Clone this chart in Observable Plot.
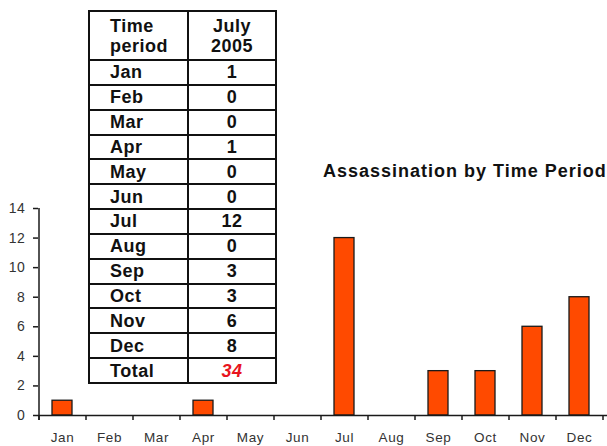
<!DOCTYPE html>
<html><head><meta charset="utf-8">
<script src="https://cdn.jsdelivr.net/npm/d3@7"></script>
<script src="https://cdn.jsdelivr.net/npm/@observablehq/plot@0.6"></script>
<style>
body{margin:0;background:#fff;font-family:Arial,"Liberation Sans",sans-serif;}
#wrap{position:relative;width:607px;height:446px;overflow:hidden;background:#fff;}
#chart{position:absolute;left:0;top:0;}
#title{position:absolute;left:323px;top:161px;font-weight:bold;font-size:18px;letter-spacing:1px;white-space:nowrap;color:#111;}
table{position:absolute;left:88px;top:10px;border-collapse:collapse;table-layout:fixed;background:#fff;font-weight:bold;font-size:18px;letter-spacing:0.5px;color:#111;}
td{border:2px solid #111;padding:0;height:22.85px;line-height:18px;overflow:hidden;white-space:nowrap;}
td.l{text-align:left;padding-left:20px;}
td.v{text-align:center;}
tr.h td{height:47px;line-height:20px;vertical-align:middle;}
td.tot{color:#e8141e;font-style:italic;}
#chart svg text{letter-spacing:0.6px;}
</style>
</head><body>
<div id="wrap">
  <div id="chart"></div>
  <div id="title"></div>
  <table id="tbl"><colgroup><col style="width:99px"><col style="width:88px"></colgroup><tbody></tbody></table>
</div>
<script>
const months = ["Jan","Feb","Mar","Apr","May","Jun","Jul","Aug","Sep","Oct","Nov","Dec"];
const counts = [1,0,0,1,0,0,12,0,3,3,6,8];
const totalCount = 34;
const yTicks = [0,2,4,6,8,10,12,14];
const titleText = "Assassination by Time Period";
const headerLeft = ["Time","period"];
const headerRight = ["July","2005"];
const totalLabel = "Total";

const data = months.map((m,i)=>({month:m,count:counts[i]}));

const chart = Plot.plot({
  width:607, height:446,
  marginLeft:38, marginRight:4, marginTop:208, marginBottom:31,
  style:{fontFamily:"Arial, 'Liberation Sans', sans-serif", fontSize:"13.5px", color:"#333", background:"transparent"},
  x:{domain:months, paddingInner:0.57, paddingOuter:0.285, axis:null},
  y:{domain:[0,14], axis:null},
  marks:[
    Plot.barY(data,{x:"month",y:"count",fill:"#ff4a00",stroke:"#1a1a1a",strokeWidth:1.3}),
    Plot.ruleY([0],{stroke:"#1a1a1a",strokeWidth:1.5,insetRight:-4}),
    Plot.ruleX([months[0]],{x:d=>d,dx:-23.5,y1:14,y2:0,insetBottom:-5,stroke:"#1a1a1a",strokeWidth:1.5}),
    Plot.ruleX(months,{x:d=>d,dx:-23.5,y1:0,y2:0,insetBottom:-5,stroke:"#1a1a1a",strokeWidth:1.5}),
    Plot.ruleX([months[11]],{x:d=>d,dx:23.5,y1:0,y2:0,insetBottom:-5,stroke:"#1a1a1a",strokeWidth:1.5}),
    Plot.axisY({ticks:yTicks,tickSize:5,tickPadding:8,stroke:"#1a1a1a",fill:"#333",strokeWidth:1.5,label:null,fontSize:14}),
    Plot.axisX({tickSize:0,tickPadding:17,fill:"#333",label:null})
  ]
});
document.getElementById("chart").appendChild(chart);
document.getElementById("title").textContent = titleText;

const tb = document.querySelector("#tbl tbody");
function addRow(a,b,cls,valCls){
  const tr=document.createElement("tr"); if(cls) tr.className=cls;
  const t1=document.createElement("td"); t1.className="l"; t1.innerHTML=a;
  const t2=document.createElement("td"); t2.className="v"+(valCls?" "+valCls:""); t2.innerHTML=b;
  tr.appendChild(t1); tr.appendChild(t2); tb.appendChild(tr);
}
addRow(headerLeft.join("<br>"), headerRight.join("<br>"), "h");
months.forEach((m,i)=>addRow(m,String(counts[i])));
addRow(totalLabel,String(totalCount),null,"tot");
</script>
</body></html>
